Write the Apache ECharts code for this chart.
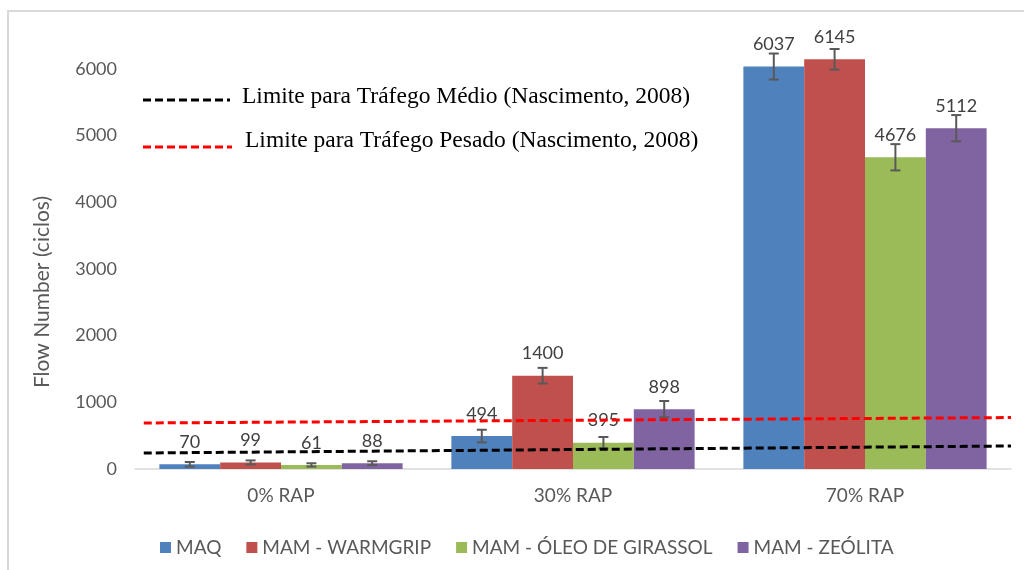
<!DOCTYPE html>
<html>
<head>
<meta charset="utf-8">
<script src="https://cdn.jsdelivr.net/npm/echarts@6/dist/echarts.min.js"></script>
<style>
  html, body { margin: 0; padding: 0; background: #fff; }
  #chart { width: 1024px; height: 570px; }
</style>
</head>
<body>
<div id="chart"></div>
<script>
const categories = ["0% RAP", "30% RAP", "70% RAP"];
const seriesNames = ["MAQ", "MAM - WARMGRIP", "MAM - ÓLEO DE GIRASSOL", "MAM - ZEÓLITA"];

const maq = [70, 494, 6037];
const warmgrip = [99, 1400, 6145];
const girassol = [61, 395, 4676];
const zeolita = [88, 898, 5112];

// error bar half-widths
const maqErr = [35, 95, 195];
const warmgripErr = [30, 117, 155];
const girassolErr = [25, 85, 197];
const zeolitaErr = [28, 122, 197];

// limit lines: [x position along axis 0..1, value]
const limiteMedio = [[0.01, 240], [1.0, 345]];
const limitePesado = [[0.01, 690], [1.0, 772]];

const yTicks = [0, 1000, 2000, 3000, 4000, 5000, 6000];

const colors = ["#4F81BD", "#C0504D", "#9BBB59", "#8064A2"];
const GAP = 0.167;
const FONT = "Lato";

const values = [maq, warmgrip, girassol, zeolita];
const errors = [maqErr, warmgripErr, girassolErr, zeolitaErr];

const el = echarts.init(document.getElementById("chart"));

const barSeries = values.map((vals, i) => ({
  name: seriesNames[i],
  type: "bar",
  data: vals,
  barGap: "0%",
  barCategoryGap: (GAP * 100) + "%",
  itemStyle: { color: colors[i] },
  label: {
    show: true,
    position: "top",
    distance: 13,
    color: "#404040",
    fontFamily: FONT,
    fontSize: 18,
  },
  z: 2,
}));

const errSeries = errors.map((errs, i) => ({
  type: "custom",
  name: "err" + i,
  data: values[i].map((v, k) => [k, v - errs[k], v + errs[k]]),
  renderItem: function (params, api) {
    const cat = api.value(0);
    const lo = api.coord([cat, api.value(1)]);
    const hi = api.coord([cat, api.value(2)]);
    const bandW = api.size([1, 0])[0];
    const barW = bandW * (1 - GAP) / 4;
    const x = lo[0] + (i - 1.5) * barW;
    const cap = 5;
    const style = { stroke: "#595959", lineWidth: 2 };
    return {
      type: "group",
      children: [
        { type: "line", shape: { x1: x, y1: hi[1], x2: x, y2: lo[1] }, style: style },
        { type: "line", shape: { x1: x - cap, y1: hi[1], x2: x + cap, y2: hi[1] }, style: style },
        { type: "line", shape: { x1: x - cap, y1: lo[1], x2: x + cap, y2: lo[1] }, style: style },
      ],
    };
  },
  z: 3,
  silent: true,
}));

const lineSeries = [
  { data: limiteMedio, color: "#000000" },
  { data: limitePesado, color: "#FF0000" },
].map((l) => ({
  type: "line",
  xAxisIndex: 1,
  data: l.data,
  symbol: "none",
  lineStyle: { color: l.color, width: 3, type: [8, 4] },
  z: 5,
  silent: true,
}));

const options = {
  animation: false,
  grid: { left: 135, right: 13, top: 469 - 7000 * (400 / 6000), bottom: 101 },
  xAxis: [
    {
      type: "category",
      data: categories,
      axisLine: { lineStyle: { color: "#d9d9d9", width: 1.5 } },
      axisTick: { show: false },
      axisLabel: { color: "#595959", fontFamily: FONT, fontSize: 19, margin: 17 },
    },
    { type: "value", min: 0, max: 1, show: false },
  ],
  yAxis: {
    type: "value",
    min: 0,
    max: 7000,
    interval: 1000,
    axisLine: { show: false },
    axisTick: { show: false },
    splitLine: { show: false },
    axisLabel: {
      color: "#595959",
      fontFamily: FONT,
      fontSize: 18,
      margin: 18,
      formatter: (v) => (yTicks.indexOf(v) >= 0 ? String(v) : ""),
    },
  },
  legend: {
    data: seriesNames,
    left: 155,
    top: 533,
    icon: "rect",
    itemWidth: 11,
    itemHeight: 11,
    itemGap: 25,
    textStyle: { color: "#595959", fontFamily: FONT, fontSize: 19 },
  },
  graphic: [
    {
      type: "polyline",
      shape: { points: [[8, 580], [8, 11], [1030, 11]] },
      style: { stroke: "#d9d9d9", lineWidth: 2, fill: null },
    },
    {
      type: "text",
      x: 42,
      y: 292,
      rotation: Math.PI / 2,
      style: {
        text: "Flow Number (ciclos)",
        fill: "#595959",
        font: "21px " + FONT,
        textAlign: "center",
        textVerticalAlign: "middle",
      },
    },
    {
      type: "line",
      shape: { x1: 143, y1: 100, x2: 230, y2: 100 },
      style: { stroke: "#000000", lineWidth: 3, lineDash: [8, 4] },
    },
    {
      type: "text",
      x: 242,
      y: 97,
      style: {
        text: "Limite para Tráfego Médio (Nascimento, 2008)",
        fill: "#000000",
        font: "23.5px 'Liberation Serif'",
        textVerticalAlign: "middle",
      },
    },
    {
      type: "line",
      shape: { x1: 143, y1: 147, x2: 232, y2: 147 },
      style: { stroke: "#FF0000", lineWidth: 3, lineDash: [8, 4] },
    },
    {
      type: "text",
      x: 245,
      y: 141,
      style: {
        text: "Limite para Tráfego Pesado (Nascimento, 2008)",
        fill: "#000000",
        font: "23.5px 'Liberation Serif'",
        textVerticalAlign: "middle",
      },
    },
  ],
  series: barSeries.concat(errSeries, lineSeries),
};

el.setOption(options);
</script>
</body>
</html>
